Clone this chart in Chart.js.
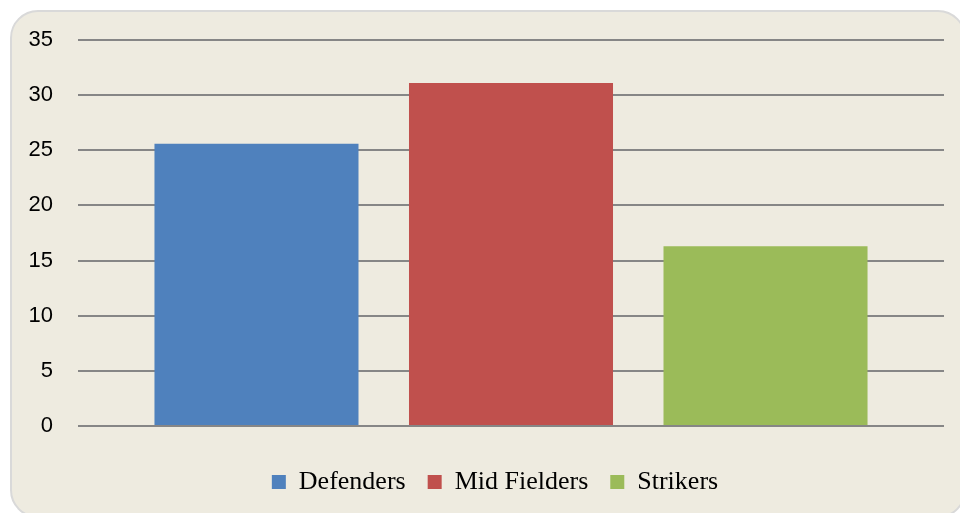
<!DOCTYPE html>
<html>
<head>
<meta charset="utf-8">
<script src="https://cdn.jsdelivr.net/npm/chart.js@4"></script>
<style>
  html, body { margin: 0; padding: 0; background: #ffffff; }
  body { width: 960px; height: 513px; position: relative; overflow: hidden; }
  .frame {
    position: absolute; left: 10px; top: 10px; width: 956px; height: 508px;
    box-sizing: border-box; border: 2px solid #d9d9d9; border-radius: 28px;
    background: #eeebe0;
  }
  .wrap { position: absolute; left: 0; top: 0; width: 960px; height: 513px; }
</style>
</head>
<body>
<div class="frame"></div>
<div class="wrap"><canvas id="chart" width="960" height="513"></canvas></div>
<script>
// Player counts by position
const categories = [''];
const seriesNames = ['Defenders', 'Mid Fielders', 'Strikers'];
const seriesValues = [25.6, 31.1, 16.3];
const seriesColors = ['#4f81bd', '#c0504d', '#9bbb59'];
const yTicks = [0, 5, 10, 15, 20, 25, 30, 35];

const datasets = seriesNames.map((name, i) => ({
  label: name,
  data: [seriesValues[i]],
  backgroundColor: seriesColors[i],
  borderWidth: 0,
  categoryPercentage: 0.8817,
  barPercentage: 0.8016
}));

// Nudge the legend a little to the right of the canvas centre
const legendShift = {
  id: 'legendShift',
  afterLayout(chart) {
    if (chart.legend) {
      chart.legend.left += 23;
      chart.legend.right += 23;
    }
  }
};

new Chart(document.getElementById('chart'), {
  type: 'bar',
  data: { labels: categories, datasets },
  plugins: [legendShift],
  options: {
    responsive: false,
    animation: false,
    layout: { padding: { left: 0, right: 16, top: 40, bottom: 8 } },
    plugins: {
      tooltip: { enabled: false },
      legend: {
        position: 'bottom',
        labels: {
          color: '#000000',
          font: { family: '"Liberation Serif", "Times New Roman", serif', size: 26 },
          boxWidth: 14,
          boxHeight: 14,
          padding: 22
        }
      }
    },
    scales: {
      x: {
        afterFit: (scale) => { scale.height = 21; },
        grid: { display: false },
        border: { display: false },
        ticks: { display: false }
      },
      y: {
        min: 0,
        max: 35,
        afterFit: (scale) => { scale.width = 78; },
        afterBuildTicks: (scale) => { scale.ticks = yTicks.map(v => ({ value: v })); },
        grid: { color: '#868686', lineWidth: 2, drawTicks: false },
        border: { display: false },
        ticks: {
          color: '#000000',
          padding: 25,
          font: { family: '"Liberation Sans", Arial, sans-serif', size: 22 }
        }
      }
    }
  }
});
</script>
</body>
</html>
